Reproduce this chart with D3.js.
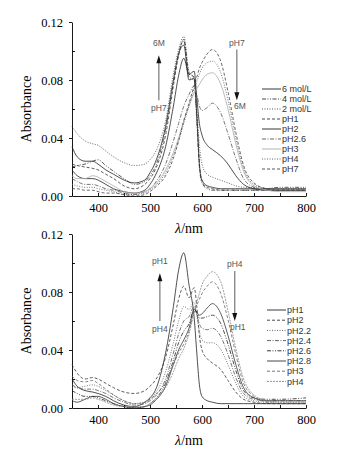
<!DOCTYPE html>
<html>
<head>
<meta charset="utf-8">
<script src="https://d3js.org/d3.v7.min.js"></script>
<style>
  body { margin: 0; background: #fff; }
  .tick text { font-family: "Liberation Serif", "Times New Roman", serif; font-size: 12.5px; fill: #000; }
  .legend text, .note { font-family: "Liberation Sans", Arial, sans-serif; }
</style>
</head>
<body>
<div id="chart"></div>
<script>
// wavelength grid (nm) shared by every spectrum
var wavelength = [350,360,375,390,400,415,430,450,470,490,500,510,530,545,555,565,575,585,590,595,600,610,620,635,650,665,680,700,725,750,800];

// upper panel: acid concentration / pH series
var top_names = ["6 mol/L","4 mol/L","2 mol/L","pH1","pH2","pH2.6","pH3","pH4","pH7"];
var top_6M   = [.034,.027,.024,.024,.022,.018,.015,.011,.009,.011,.016,.023,.048,.080,.098,.104,.080,.081,.055,.022,.011,.007,.006,.005,.005,.005,.005,.005,.005,.005,.005];
var top_4M   = [.020,.021,.022,.024,.025,.021,.017,.012,.008,.010,.014,.020,.046,.078,.098,.107,.082,.080,.052,.020,.009,.005,.004,.004,.004,.004,.004,.004,.005,.006,.006];
var top_2M   = [.048,.043,.038,.036,.035,.031,.027,.023,.021,.022,.025,.030,.052,.084,.101,.110,.086,.081,.060,.035,.022,.015,.013,.011,.009,.007,.006,.006,.005,.005,.005];
var top_pH1  = [.022,.021,.020,.019,.018,.015,.012,.007,.005,.008,.012,.018,.042,.076,.097,.108,.084,.082,.056,.022,.010,.006,.005,.004,.004,.004,.004,.004,.004,.004,.004];
var top_pH2  = [.018,.014,.012,.012,.011,.008,.005,.003,.002,.004,.008,.014,.034,.062,.083,.095,.084,.086,.068,.050,.042,.035,.032,.028,.022,.014,.008,.005,.004,.004,.004];
var top_pH26 = [.012,.010,.008,.008,.007,.005,.004,.002,.001,.003,.005,.009,.022,.038,.050,.062,.070,.076,.070,.062,.059,.061,.064,.058,.043,.026,.012,.006,.004,.004,.004];
var top_pH3  = [.014,.012,.012,.014,.013,.010,.007,.003,.002,.003,.005,.008,.018,.030,.040,.052,.062,.071,.074,.077,.080,.084,.085,.078,.060,.036,.017,.007,.004,.003,.003];
var top_pH4  = [.008,.007,.006,.006,.005,.004,.003,.001,.001,.002,.004,.007,.016,.028,.038,.050,.062,.074,.079,.084,.088,.092,.093,.086,.066,.040,.019,.008,.005,.004,.004];
var top_pH7  = [.005,.005,.004,.004,.003,.002,.002,.001,.000,.001,.003,.006,.014,.026,.038,.052,.064,.076,.082,.088,.092,.098,.101,.094,.072,.044,.021,.009,.005,.004,.004];

// lower panel: pH series
var bottom_names = ["pH1","pH2","pH2.2","pH2.4","pH2.6","pH2.8","pH3","pH4"];
var bot_pH1  = [.020,.015,.012,.011,.010,.008,.005,.002,.001,.004,.007,.012,.038,.070,.095,.107,.085,.062,.038,.016,.008,.005,.004,.003,.003,.003,.003,.003,.003,.003,.003];
var bot_pH2  = [.030,.024,.020,.021,.020,.017,.014,.011,.010,.012,.015,.019,.035,.058,.075,.084,.076,.083,.070,.050,.040,.034,.031,.027,.019,.011,.006,.004,.003,.003,.003];
var bot_pH22 = [.014,.014,.015,.016,.015,.012,.009,.005,.003,.004,.006,.010,.025,.045,.060,.070,.068,.073,.064,.053,.047,.045,.045,.041,.030,.017,.008,.005,.004,.004,.004];
var bot_pH24 = [.016,.014,.013,.013,.012,.010,.007,.004,.002,.003,.005,.008,.020,.038,.051,.060,.063,.070,.064,.058,.055,.054,.055,.050,.037,.021,.010,.006,.005,.005,.005];
var bot_pH26 = [.012,.010,.008,.008,.007,.005,.003,.001,.000,.001,.003,.006,.017,.033,.045,.053,.058,.068,.066,.062,.062,.063,.064,.059,.044,.026,.012,.007,.006,.006,.007];
var bot_pH28 = [.005,.004,.006,.008,.008,.006,.003,.001,.000,.001,.002,.005,.015,.030,.040,.047,.055,.068,.066,.064,.065,.069,.072,.066,.050,.030,.014,.007,.005,.005,.005];
var bot_pH3  = [.022,.019,.018,.019,.017,.013,.009,.005,.003,.004,.006,.009,.018,.030,.038,.044,.053,.067,.071,.075,.079,.084,.087,.080,.061,.037,.017,.008,.004,.003,.003];
var bot_pH4  = [.006,.006,.006,.007,.006,.004,.002,.001,.001,.001,.003,.006,.014,.025,.034,.041,.051,.066,.073,.079,.085,.091,.094,.088,.067,.041,.020,.009,.005,.004,.004];

var x_ticks = [400,500,600,700,800];
var y_ticks = [0.00,0.04,0.08,0.12];

// line styles, in legend order
var dash = {solid: null, dash: "3,2", dot: "1,1.5", dashdot: "4,1.5,1,1.5", dashdotdot: "4,1.5,1,1.5,1,1.5", short: "2,1"};
var top_styles = [
  {d: dash.solid, c: "#222"}, {d: dash.dashdotdot, c: "#333"}, {d: dash.dot, c: "#444"},
  {d: dash.dash, c: "#333"}, {d: dash.solid, c: "#222"}, {d: dash.dashdot, c: "#555"},
  {d: dash.solid, c: "#aaa"}, {d: dash.dot, c: "#555"}, {d: dash.dash, c: "#444"}
];
var bottom_styles = [
  {d: dash.solid, c: "#222"}, {d: dash.dash, c: "#333"}, {d: dash.dot, c: "#555"},
  {d: dash.dashdot, c: "#555"}, {d: dash.dashdotdot, c: "#222"}, {d: dash.solid, c: "#333"},
  {d: dash.dash, c: "#666"}, {d: dash.short, c: "#888"}
];

var svg = d3.select("#chart").append("svg")
            .attr("width", 358)
            .attr("height", 458);

function drawPanel(p) {
  var x = d3.scaleLinear().domain([350, 800]).range([72, 306]);
  var y = d3.scaleLinear().domain([0, 0.12]).range([p.bottom, p.top]);
  var g = svg.append("g");

  // x axis, ticks pointing inward
  g.append("g")
   .attr("transform", "translate(0," + p.bottom + ")")
   .call(d3.axisBottom(x).tickValues(d3.range(350, 801, 50))
           .tickFormat(function(d) { return x_ticks.indexOf(d) >= 0 ? d : ""; })
           .tickSizeInner(-3).tickSizeOuter(0).tickPadding(7));

  // y axis, major ticks out, minor in
  g.append("g")
   .attr("transform", "translate(72,0)")
   .call(d3.axisLeft(y).tickValues(y_ticks).tickFormat(d3.format(".2f"))
           .tickSize(3).tickSizeOuter(0).tickPadding(6));
  g.append("g")
   .attr("transform", "translate(72,0)")
   .call(d3.axisLeft(y).tickValues([0.02, 0.06, 0.10]).tickFormat("")
           .tickSize(-3).tickSizeOuter(0))
   .select(".domain").remove();
  g.selectAll(".domain, .tick line").attr("stroke", "#000").attr("stroke-width", 0.9);

  var line = d3.line()
               .x(function(d) { return x(d[0]); })
               .y(function(d) { return y(d[1]); })
               .curve(d3.curveMonotoneX);

  g.append("g").selectAll("path")
   .data(p.series)
   .enter()
   .append("path")
   .attr("d", function(s) { return line(wavelength.map(function(w, i) { return [w, s[i]]; })); })
   .attr("fill", "none")
   .attr("stroke", function(s, i) { return p.styles[i].c; })
   .attr("stroke-width", 0.8)
   .attr("stroke-dasharray", function(s, i) { return p.styles[i].d; });

  // axis titles
  g.append("text")
   .attr("transform", "translate(31," + (p.top + p.bottom) / 2 + ") rotate(-90)")
   .attr("text-anchor", "middle")
   .style("font-family", "'Liberation Serif', 'Times New Roman', serif")
   .style("font-size", "14px")
   .text("Absorbance");
  var xl = g.append("text")
            .attr("x", 189)
            .attr("y", p.bottom + 37)
            .attr("text-anchor", "middle")
            .style("font-family", "'Liberation Serif', 'Times New Roman', serif")
            .style("font-size", "14px");
  xl.append("tspan").style("font-style", "italic").text("λ");
  xl.append("tspan").text("/nm");

  // legend
  var lg = g.append("g").attr("class", "legend");
  p.names.forEach(function(n, i) {
    var ly = p.legendY + i * p.legendStep;
    lg.append("line")
      .attr("x1", p.legendX).attr("x2", p.legendX + 19)
      .attr("y1", ly).attr("y2", ly)
      .attr("stroke", p.styles[i].c)
      .attr("stroke-width", 0.9)
      .attr("stroke-dasharray", p.styles[i].d);
    lg.append("text")
      .attr("x", p.legendX + 20)
      .attr("y", ly + 3.2)
      .style("font-size", "9px")
      .style("fill", "#333")
      .text(n);
  });

  // trend arrows
  p.arrows.forEach(function(a) {
    var ax = x(a.wl), y1 = y(a.from), y2 = y(a.to);
    var dir = y2 < y1 ? 1 : -1;
    g.append("line")
     .attr("x1", ax).attr("x2", ax)
     .attr("y1", y1).attr("y2", y2 + dir * 6)
     .attr("stroke", "#777").attr("stroke-width", 1.2);
    g.append("path")
     .attr("d", "M" + ax + "," + y2 + "L" + (ax - 2.5) + "," + (y2 + dir * 8) + "L" + (ax + 2.5) + "," + (y2 + dir * 8) + "Z")
     .attr("fill", "#111");
    g.append("text").attr("class", "note")
     .attr("x", ax).attr("y", y(a.from) + (dir > 0 ? 11 : -4))
     .attr("text-anchor", "middle")
     .style("font-size", "8.5px").style("fill", "#555")
     .text(a.fromLabel);
    g.append("text").attr("class", "note")
     .attr("x", ax + (dir > 0 ? 0 : 3)).attr("y", dir > 0 ? y(a.to) - 9 : y(a.to) + 9)
     .attr("text-anchor", "middle")
     .style("font-size", "8.5px").style("fill", "#555")
     .text(a.toLabel);
  });
}

drawPanel({
  top: 22, bottom: 196,
  series: [top_6M, top_4M, top_2M, top_pH1, top_pH2, top_pH26, top_pH3, top_pH4, top_pH7],
  names: top_names, styles: top_styles,
  legendX: 262, legendY: 89, legendStep: 10,
  arrows: [
    {wl: 517, from: 0.066, to: 0.097, fromLabel: "pH7", toLabel: "6M"},
    {wl: 667, from: 0.101, to: 0.066, fromLabel: "pH7", toLabel: "6M"}
  ]
});

drawPanel({
  top: 234, bottom: 408,
  series: [bot_pH1, bot_pH2, bot_pH22, bot_pH24, bot_pH26, bot_pH28, bot_pH3, bot_pH4],
  names: bottom_names, styles: bottom_styles,
  legendX: 267, legendY: 310, legendStep: 10.2,
  arrows: [
    {wl: 519, from: 0.060, to: 0.093, fromLabel: "pH4", toLabel: "pH1"},
    {wl: 663, from: 0.0945, to: 0.060, fromLabel: "pH4", toLabel: "pH1"}
  ]
});
</script>
</body>
</html>
